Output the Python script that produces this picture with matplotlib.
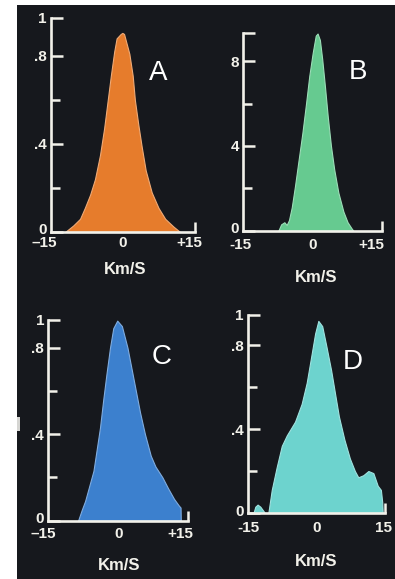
import matplotlib
matplotlib.use("Agg")
import matplotlib.pyplot as plt
import matplotlib.transforms as mtransforms
from matplotlib.patches import Rectangle

W, H, DPI = 395, 579, 100

# Line-of-sight velocity (km/s) and normalised counts for the four profiles
vel_a = [-12.0, -10.3, -8.9, -7.9, -6.8, -5.8, -4.75, -3.9, -3.2, -2.5, -1.8, -1.3,
         -0.45, -0.1, 0.25, 1.35, 2.05, 2.5, 3.2, 3.9, 4.75, 6.0, 7.4, 8.8, 10.5, 11.9]
frac_a = [0.0, 0.03, 0.06, 0.11, 0.17, 0.24, 0.35, 0.47, 0.59, 0.71, 0.82, 0.88,
          0.90, 0.905, 0.90, 0.81, 0.71, 0.60, 0.49, 0.39, 0.28, 0.18, 0.11, 0.06, 0.025, 0.0]

vel_b = [-7.4, -6.8, -6.1, -5.6, -5.1, -4.5, -3.8, -3.1, -2.2, -1.4, -0.7, 0.05, 0.7,
         1.1, 1.6, 2.1, 2.7, 3.3, 4.0, 4.7, 5.6, 6.7, 7.6, 8.5, 8.85]
frac_b = [0.0, 0.03, 0.04, 0.027, 0.05, 0.11, 0.21, 0.32, 0.46, 0.60, 0.73, 0.84, 0.92,
          0.93, 0.90, 0.81, 0.68, 0.54, 0.40, 0.29, 0.18, 0.09, 0.04, 0.01, 0.0]

vel_c = [-8.6, -7.8, -7.1, -6.2, -5.3, -4.6, -3.9, -3.2, -2.5, -1.75, -1.05, -0.2, 0.8,
         2.0, 2.9, 3.8, 4.7, 5.75, 7.0, 8.0, 9.5, 10.7, 12.0, 13.0, 13.4, 13.45]
frac_c = [0.0, 0.05, 0.09, 0.16, 0.23, 0.33, 0.43, 0.56, 0.68, 0.80, 0.89, 0.925, 0.90,
          0.80, 0.70, 0.60, 0.50, 0.40, 0.30, 0.25, 0.20, 0.15, 0.10, 0.07, 0.06, 0.0]

vel_d = [-13.8, -13.4, -12.9, -12.3, -11.3, -10.55, -9.8, -8.7, -7.6, -6.5, -4.7, -3.25,
         -2.15, -1.2, -0.3, 0.4, 1.25, 2.2, 3.2, 4.05, 4.9, 6.1, 7.3, 8.4, 9.15, 10.25,
         11.35, 12.45, 13.4, 14.1, 14.4, 14.5]
frac_d = [0.0, 0.03, 0.04, 0.03, 0.0, 0.0, 0.11, 0.22, 0.32, 0.37, 0.435, 0.52,
          0.62, 0.74, 0.855, 0.915, 0.89, 0.79, 0.68, 0.57, 0.46, 0.35, 0.26, 0.20, 0.17, 0.18,
          0.20, 0.19, 0.13, 0.11, 0.05, 0.0]

panel_letters = ["A", "B", "C", "D"]
fill_colors = ["#E67C2C", "#66CA90", "#3C80CE", "#6DD3CE"]
x_tick_labels = [["\u201315", "0", "+15"], ["-15", "0", "+15"],
                 ["\u201315", "0", "+15"], ["-15", "0", "15"]]
y_tick_labels = [["0", ".4", ".8", "1"], ["0", "4", "8", ""],
                 ["0", ".4", ".8", "1"], ["0", ".4", ".8", "1"]]
x_unit = "Km/S"

profiles = [(vel_a, frac_a), (vel_b, frac_b), (vel_c, frac_c), (vel_d, frac_d)]

# Layout in pixels: axes box (left, right, top, bottom), top of the y axis in data
# units, x label pad (pt), end-label nudges (px), letter and unit label centres.
layout = [
    dict(box=(50.7, 195.0, 17.7, 232.0), ytop=0.974, pad=3.0, nudge=(-6, -6),
         letter=(158, 73), unit=(125, 270)),
    dict(box=(243.3, 381.7, 32.7, 230.7), ytop=0.934, pad=5.5, nudge=(-3, -10),
         letter=(358, 72), unit=(316, 277)),
    dict(box=(48.3, 188.0, 320.0, 520.5), ytop=0.928, pad=4.5, nudge=(-5, -8),
         letter=(162, 357), unit=(119, 565)),
    dict(box=(248.0, 385.0, 315.0, 513.0), ytop=0.943, pad=6.0, nudge=(0, -2),
         letter=(353, 362), unit=(316, 562)),
]

BG = "#16181d"
AXIS = "#f2f1ea"
TICK_FONT = dict(family="Liberation Sans", weight="bold", size=11)

fig = plt.figure(figsize=(W / DPI, H / DPI), dpi=DPI, facecolor="white")
fig.patches.append(Rectangle((17 / W, 0), 1 - 17 / W, 1 - 5 / H,
                             transform=fig.transFigure, facecolor=BG,
                             edgecolor="none", zorder=-2))
fig.patches.append(Rectangle((16.7 / W, 1 - 431 / H), 3.3 / W, 14 / H,
                             transform=fig.transFigure, facecolor="#d5d5d2",
                             edgecolor="none", zorder=-1))


def lighten(hex_color, amt):
    c = matplotlib.colors.to_rgb(hex_color)
    return tuple(v + (1 - v) * amt for v in c)


def nudge(label, dx, dy):
    label.set_transform(label.get_transform()
                        + mtransforms.ScaledTranslation(dx / DPI, dy / DPI,
                                                        fig.dpi_scale_trans))


for (vel, frac), color, letter, xl, yl, lay in zip(
        profiles, fill_colors, panel_letters, x_tick_labels, y_tick_labels, layout):
    left, right, top, bottom = lay["box"]
    ax = fig.add_axes([left / W, 1 - bottom / H, (right - left) / W, (bottom - top) / H])
    ax.set_zorder(1)
    ax.set_facecolor("none")
    ax.set_xlim(-15, 15)
    ax.set_ylim(0, lay["ytop"])

    ax.fill_between(vel, frac, 0, facecolor=color, edgecolor=lighten(color, 0.35),
                    linewidth=0.8, zorder=2)

    for side in ("top", "right"):
        ax.spines[side].set_visible(False)
    for side in ("left", "bottom"):
        ax.spines[side].set_color(AXIS)
        ax.spines[side].set_linewidth(1.9)
        ax.spines[side].set_capstyle("projecting")
        ax.spines[side].set_zorder(4)

    # y axis: labelled major ticks and shorter unlabelled ones
    ax.set_yticks([0, 0.4, 0.8, lay["ytop"]])
    ax.set_yticklabels(yl, color=AXIS, **TICK_FONT)
    ax.set_yticks([0.2, 0.6], minor=True)
    ax.tick_params(axis="y", which="major", direction="in", length=8.8, width=1.8,
                   color=AXIS, pad=3)
    ax.tick_params(axis="y", which="minor", direction="in", length=6.5, width=1.8,
                   color=AXIS)
    nudge(ax.get_yticklabels()[0], 0, 3)

    # x axis: centre marker and closing tick at the right end
    ax.set_xticks([-15, 0, 15])
    ax.set_xticklabels(xl, color=AXIS, **TICK_FONT)
    ax.tick_params(axis="x", which="major", direction="in", length=7, width=1.8,
                   color=AXIS, pad=lay["pad"])
    ticks = ax.xaxis.get_major_ticks()
    ticks[0].tick1line.set_visible(False)
    ticks[1].tick1line.set_color((1, 1, 1, 0.72))
    for t in ticks:
        t.tick1line.set_zorder(5)
    labels = ax.get_xticklabels()
    nudge(labels[0], lay["nudge"][0], 0)
    nudge(labels[2], lay["nudge"][1], 0)

    fig.text(lay["letter"][0] / W, 1 - lay["letter"][1] / H, letter, color="white",
             family="Liberation Sans", size=20, ha="center", va="center")
    fig.text(lay["unit"][0] / W, 1 - lay["unit"][1] / H, x_unit, color=AXIS,
             family="Liberation Sans", weight="bold", size=12, ha="center", va="center")

fig.savefig("out.png", dpi=DPI, facecolor="white")
